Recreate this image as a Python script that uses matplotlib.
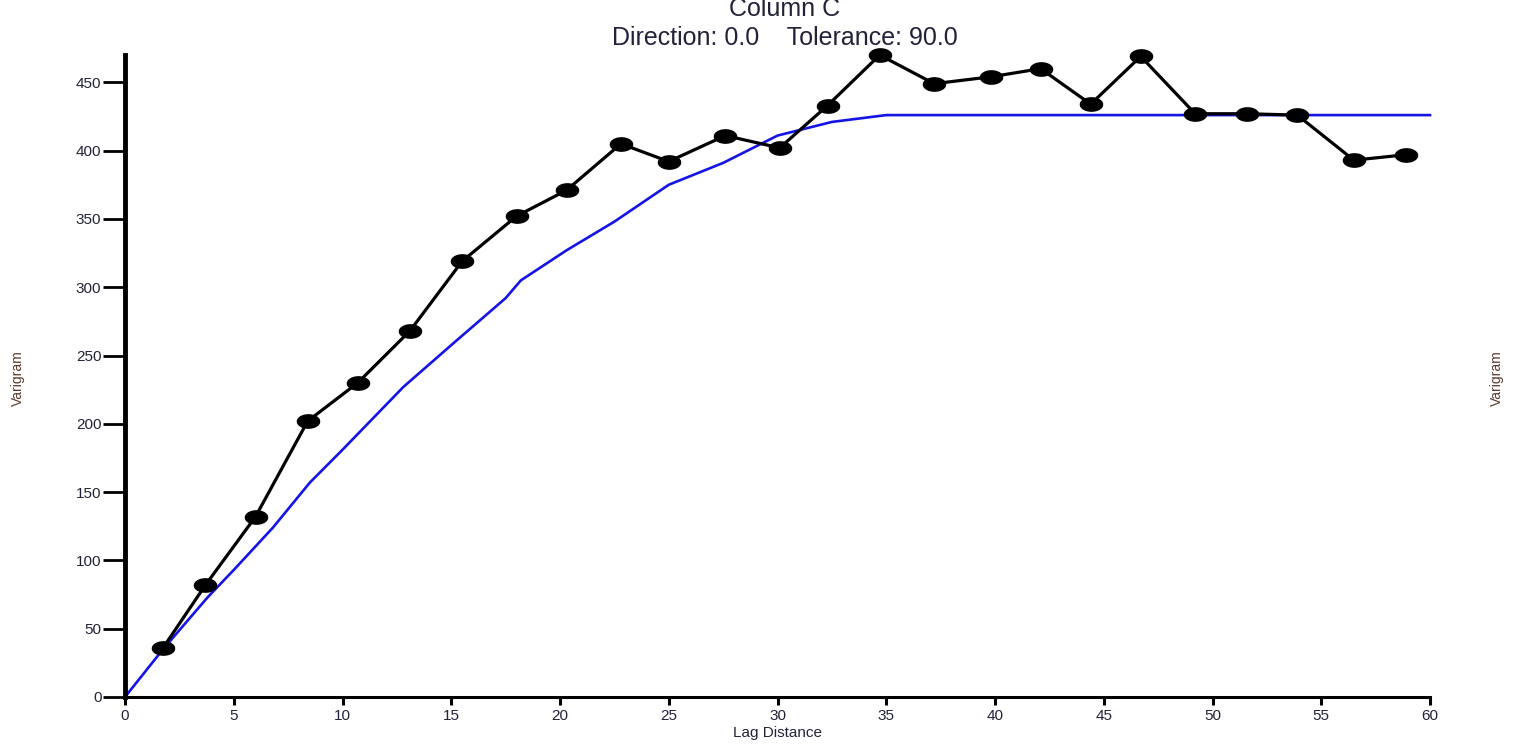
import numpy as np
import matplotlib.pyplot as plt
from matplotlib.path import Path

# experimental variogram points (lag, value)
lag = [1.75, 3.7, 6.0, 8.4, 10.7, 13.1, 15.5, 18.0, 20.3, 22.8, 25.0, 27.6,
       30.1, 32.3, 34.7, 37.2, 39.8, 42.1, 44.4, 46.7, 49.2, 51.6, 53.9, 56.5, 58.9]
gamma = [36, 82, 132, 202, 230, 268, 319, 352, 371, 405, 392, 411,
         402, 433, 470, 449, 454, 460, 434, 469, 427, 427, 426, 393, 397]

# fitted model line
model_lag = [0, 1.75, 3.8, 5, 6.8, 8.5, 10, 12.8, 15.1, 17.5, 18.2, 20.3, 22.5,
             25, 27.5, 30, 32.5, 35, 60]
model_gamma = [0, 35, 73, 93, 124, 157, 181, 227, 259, 292, 305, 327, 348,
               375, 391, 411, 421, 426, 426]

text_col = "#22223a"
plt.rcParams["font.family"] = ["Liberation Sans", "DejaVu Sans"]

fig = plt.figure(figsize=(15.13, 7.53), dpi=100)
ax = fig.add_axes([125 / 1513, 1 - 697 / 753, (1430 - 125) / 1513, (697 - 55) / 753])

# squashed elliptical marker
t = np.linspace(0, 2 * np.pi, 30)
ell = Path(np.column_stack([np.cos(t), 0.6 * np.sin(t)]))

ax.plot(model_lag, model_gamma, color="#1414e6", lw=1.9, clip_on=False, zorder=2)
ax.plot(lag, gamma, color="black", lw=2.3, marker=ell, ms=16, clip_on=False, zorder=3)

ax.set_xlim(0, 60)
ax.set_ylim(0, 470)
ax.set_xticks(range(0, 61, 5))
ax.set_yticks(range(0, 451, 50))

for s in ["top", "right"]:
    ax.spines[s].set_visible(False)
ax.spines["left"].set_linewidth(3.5)
ax.spines["bottom"].set_linewidth(2.2)
ax.tick_params(axis="y", length=16, width=2, labelsize=11, labelcolor=text_col, pad=1)
ax.tick_params(axis="x", length=6, width=2.2, labelsize=11, labelcolor=text_col, pad=3)

ax.set_xlabel("Lag Distance", fontsize=11, color=text_col, labelpad=2)

fig.text(18 / 1513, 1 - 378 / 753, "Varigram", rotation=90, fontsize=10,
         color="#5a3a2a", ha="center", va="center")
fig.text(1497 / 1513, 1 - 378 / 753, "Varigram", rotation=90, fontsize=10,
         color="#5a3a2a", ha="center", va="center")

fig.text(785 / 1513, 1 - 9 / 753, "Column C", fontsize=18, color=text_col,
         ha="center", va="center")
fig.text(785 / 1513, 1 - 38 / 753, "Direction: 0.0    Tolerance: 90.0", fontsize=18,
         color=text_col, ha="center", va="center")

fig.savefig("out.png", dpi=100)
